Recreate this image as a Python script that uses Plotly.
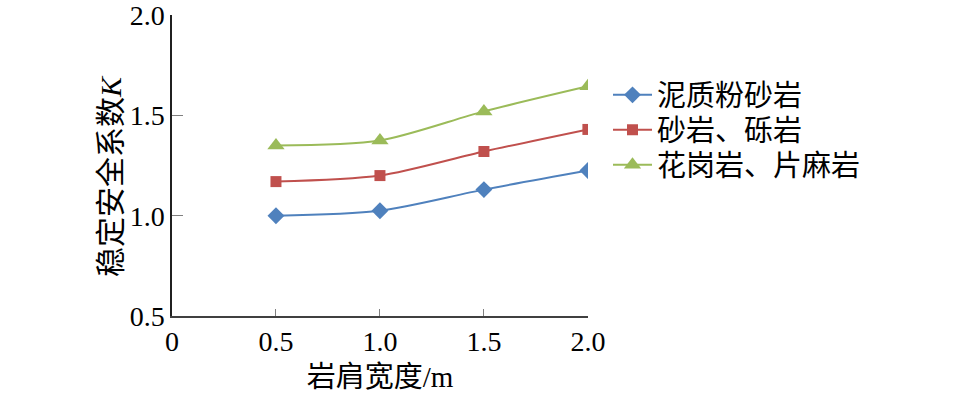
import plotly.graph_objects as go

x_vals = [0.5, 1.0, 1.5, 2.0]
mudstone = [1.00, 1.025, 1.13, 1.225]
sandstone = [1.17, 1.20, 1.32, 1.43]
granite = [1.35, 1.375, 1.52, 1.645]
series_names = ["泥质粉砂岩", "砂岩、砾岩", "花岗岩、片麻岩"]
x_ticks = [0, 0.5, 1.0, 1.5, 2.0]
x_ticklabels = ["0", "0.5", "1.0", "1.5", "2.0"]
y_ticks = [0.5, 1.0, 1.5, 2.0]
y_ticklabels = ["0.5", "1.0", "1.5", "2.0"]

FONT = "Times New Roman, Liberation Serif, Noto Sans CJK SC, serif"

W, H = 957, 395
L, T = 172, 15
PW, PH = 416, 301
B = H - T - PH

fig = go.Figure()
styles = [
    ("#4F81BD", "diamond", 13),
    ("#C0504D", "square", 11),
    ("#9BBB59", "triangle-up", 15),
]
legend_ids = ["legend", "legend2", "legend3"]
legend_centers_px = [95, 130, 165]
for name, ys, (c, sym, sz), lid in zip(series_names, [mudstone, sandstone, granite], styles, legend_ids):
    fig.add_trace(go.Scatter(
        x=x_vals, y=ys, name=name, mode="lines+markers", legend=lid,
        line=dict(color=c, width=2, shape="spline", smoothing=0.8),
        marker=dict(symbol=sym, size=sz, color=c),
    ))

legends = {}
for lid, yc in zip(legend_ids, legend_centers_px):
    legends[lid] = dict(
        x=(608 - L) / PW, y=(T + PH - yc) / PH, xanchor="left", yanchor="middle",
        font=dict(size=29, family=FONT), itemwidth=39,
        bgcolor="rgba(0,0,0,0)", borderwidth=0,
    )

fig.update_layout(
    width=W, height=H,
    margin=dict(l=L, r=W - L - PW, t=T, b=B, pad=0, autoexpand=False),
    paper_bgcolor="white", plot_bgcolor="white",
    font=dict(family=FONT, size=28, color="black"),
    showlegend=True,
    **legends,
)
fig.update_xaxes(
    range=[0, 2.0005], tickvals=x_ticks, ticktext=x_ticklabels,
    showline=True, linecolor="#404040", linewidth=1.5,
    ticks="inside", ticklen=7, tickcolor="#808080",
    showgrid=False, zeroline=False, ticklabeloverflow="allow", automargin=False,
    title=dict(text="岩肩宽度/m", font=dict(size=29), standoff=10),
    tickfont=dict(size=28),
)
fig.update_yaxes(
    range=[0.5, 2.0005], tickvals=y_ticks, ticktext=y_ticklabels,
    showline=True, linecolor="#202020", linewidth=1.5,
    ticks="inside", ticklen=11, tickcolor="#808080",
    showgrid=False, zeroline=False, ticklabeloverflow="allow", automargin=False,
    tickfont=dict(size=28),
)
fig.add_annotation(
    text="稳定安全系数<i>K</i>", textangle=-90,
    xref="paper", yref="paper",
    x=(110 - L) / PW, y=(T + PH - 176) / PH,
    xanchor="center", yanchor="middle", showarrow=False,
    font=dict(size=30, family=FONT),
)

fig.write_html("out.html", config={"displayModeBar": False},
               post_script="document.body.style.margin='0';")
